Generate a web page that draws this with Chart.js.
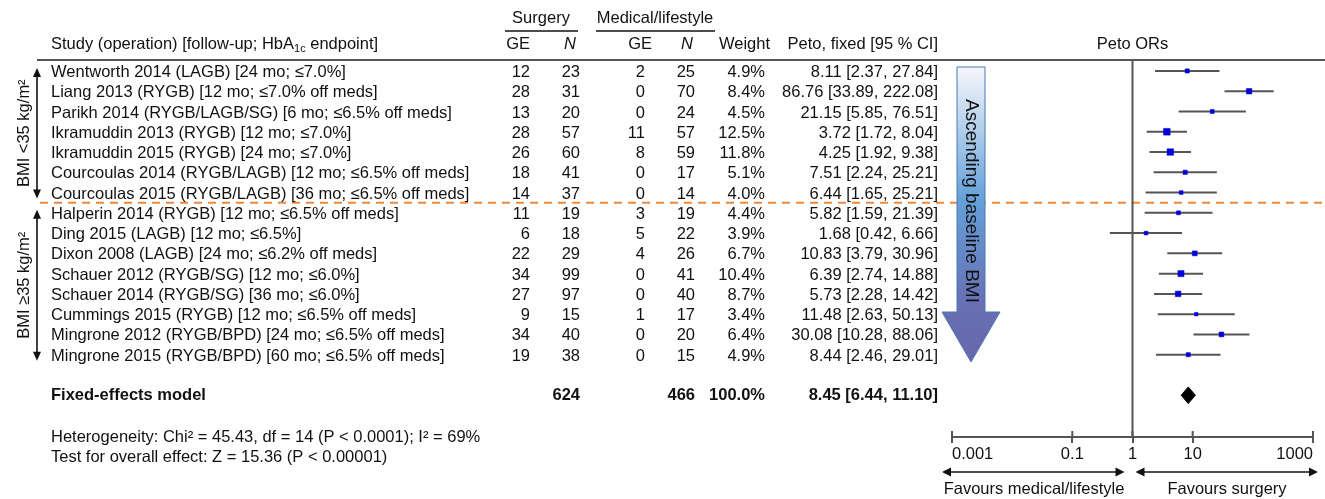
<!DOCTYPE html>
<html>
<head>
<meta charset="utf-8">
<title>Surgery vs medical/lifestyle - Peto ORs</title>
<script src="https://cdn.jsdelivr.net/npm/chart.js"></script>
<style>
  body { margin: 0; background: #fff; }
  #wrap { width: 1325px; height: 499px; }
</style>
</head>
<body>
<div id="wrap"><canvas id="forest" width="1325" height="499"></canvas></div>
<script>
// study rows, top to bottom
const studies = [
  'Wentworth 2014 (LAGB) [24 mo; ≤7.0%]',
  'Liang 2013 (RYGB) [12 mo; ≤7.0% off meds]',
  'Parikh 2014 (RYGB/LAGB/SG) [6 mo; ≤6.5% off meds]',
  'Ikramuddin 2013 (RYGB) [12 mo; ≤7.0%]',
  'Ikramuddin 2015 (RYGB) [24 mo; ≤7.0%]',
  'Courcoulas 2014 (RYGB/LAGB) [12 mo; ≤6.5% off meds]',
  'Courcoulas 2015 (RYGB/LAGB) [36 mo; ≤6.5% off meds]',
  'Halperin 2014 (RYGB) [12 mo; ≤6.5% off meds]',
  'Ding 2015 (LAGB) [12 mo; ≤6.5%]',
  'Dixon 2008 (LAGB) [24 mo; ≤6.2% off meds]',
  'Schauer 2012 (RYGB/SG) [12 mo; ≤6.0%]',
  'Schauer 2014 (RYGB/SG) [36 mo; ≤6.0%]',
  'Cummings 2015 (RYGB) [12 mo; ≤6.5% off meds]',
  'Mingrone 2012 (RYGB/BPD) [24 mo; ≤6.5% off meds]',
  'Mingrone 2015 (RYGB/BPD) [60 mo; ≤6.5% off meds]'
];
const surgGE = [12, 28, 13, 28, 26, 18, 14, 11, 6, 22, 34, 27, 9, 34, 19];
const surgN  = [23, 31, 20, 57, 60, 41, 37, 19, 18, 29, 99, 97, 15, 40, 38];
const medGE  = [2, 0, 0, 11, 8, 0, 0, 3, 5, 4, 0, 0, 1, 0, 0];
const medN   = [25, 70, 24, 57, 59, 17, 14, 19, 22, 26, 41, 40, 17, 20, 15];
const weight = [4.9, 8.4, 4.5, 12.5, 11.8, 5.1, 4.0, 4.4, 3.9, 6.7, 10.4, 8.7, 3.4, 6.4, 4.9];
const petoOR = [8.11, 86.76, 21.15, 3.72, 4.25, 7.51, 6.44, 5.82, 1.68, 10.83, 6.39, 5.73, 11.48, 30.08, 8.44];
const ciLow  = [2.37, 33.89, 5.85, 1.72, 1.92, 2.24, 1.65, 1.59, 0.42, 3.79, 2.74, 2.28, 2.63, 10.28, 2.46];
const ciHigh = [27.84, 222.08, 76.51, 8.04, 9.38, 25.21, 25.21, 21.39, 6.66, 30.96, 14.88, 14.42, 50.13, 88.06, 29.01];

// fixed-effects summary
const totalSurgN = 624;
const totalMedN = 466;
const totalWeight = 100.0;
const fixedOR = 8.45;
const fixedLow = 6.44;
const fixedHigh = 11.10;

// BMI groups: label, first row, last row
const groupLabels = ['BMI <35 kg/m²', 'BMI ≥35 kg/m²'];
const groupFirst = [0, 7];
const groupLast = [6, 14];

const xTickValues = [0.001, 0.1, 1, 10, 1000];
const xTickLabels = ['0.001', '0.1', '1', '10', '1000'];

const heterogeneity = 'Heterogeneity: Chi² = 45.43, df = 14 (P < 0.0001); I² = 69%';
const overallTest = 'Test for overall effect: Z = 15.36 (P < 0.00001)';

const SUMMARY_ROW = 16;
const FONT = '"Liberation Sans", Arial, Helvetica, sans-serif';
const INK = '#111';
const LINE = '#555';

function put(ctx, s, x, y, align, style, size) {
  ctx.font = (style || '') + ' ' + (size || 16.5) + 'px ' + FONT;
  ctx.textAlign = align || 'left';
  ctx.textBaseline = 'middle';
  ctx.fillStyle = INK;
  ctx.fillText(s, x, y);
}

function hline(ctx, x1, x2, y, w, color) {
  ctx.beginPath();
  ctx.moveTo(x1, y);
  ctx.lineTo(x2, y);
  ctx.lineWidth = w;
  ctx.strokeStyle = color;
  ctx.stroke();
}

function head(ctx, x, y, dir, horiz) {
  // small filled arrow head, tip at (x, y)
  ctx.beginPath();
  if (horiz) {
    ctx.moveTo(x, y);
    ctx.lineTo(x - dir * 9, y - 4.5);
    ctx.lineTo(x - dir * 9, y + 4.5);
  } else {
    ctx.moveTo(x, y);
    ctx.lineTo(x - 4, y - dir * 9);
    ctx.lineTo(x + 4, y - dir * 9);
  }
  ctx.closePath();
  ctx.fillStyle = INK;
  ctx.fill();
}

function dblArrowH(ctx, x1, x2, y) {
  hline(ctx, x1 + 4, x2 - 4, y, 1.6, INK);
  head(ctx, x1, y, -1, true);
  head(ctx, x2, y, 1, true);
}

// lines behind the markers: group divider and the line of no effect
const backdrop = {
  id: 'backdrop',
  beforeDatasetsDraw(chart) {
    const { ctx, scales: { x, y } } = chart;
    ctx.save();
    const yd = y.getPixelForValue((groupLast[0] + groupFirst[1]) / 2);
    ctx.setLineDash([8, 6]);
    hline(ctx, 40, 1325, yd, 2, '#f0893b');
    ctx.setLineDash([]);
    const x1 = x.getPixelForValue(1);
    ctx.beginPath();
    ctx.moveTo(x1, chart.chartArea.top);
    ctx.lineTo(x1, chart.chartArea.bottom);
    ctx.lineWidth = 2;
    ctx.strokeStyle = LINE;
    ctx.stroke();
    ctx.restore();
  }
};

// the table on the left, headers, notes and decorations
const table = {
  id: 'table',
  afterDraw(chart) {
    const { ctx, scales: { x, y } } = chart;
    const area = chart.chartArea;
    ctx.save();

    // column group headers
    put(ctx, 'Surgery', 541, 18, 'center');
    hline(ctx, 505, 578, 31, 1.5, INK);
    put(ctx, 'Medical/lifestyle', 655, 18, 'center');
    hline(ctx, 596, 715, 31, 1.5, INK);

    // column headers
    const hy = 44;
    ctx.font = '16.5px ' + FONT;
    let sx = 51;
    put(ctx, 'Study (operation) [follow-up; HbA', sx, hy);
    sx += ctx.measureText('Study (operation) [follow-up; HbA').width;
    put(ctx, '1c', sx, hy + 5, 'left', '', 11);
    ctx.font = '11px ' + FONT;
    sx += ctx.measureText('1c').width;
    put(ctx, ' endpoint]', sx, hy);
    put(ctx, 'GE', 530, hy, 'right');
    put(ctx, 'N', 570, hy, 'center', 'italic');
    put(ctx, 'GE', 652, hy, 'right');
    put(ctx, 'N', 687, hy, 'center', 'italic');
    put(ctx, 'Weight', 770, hy, 'right');
    put(ctx, 'Peto, fixed [95 % CI]', 938, hy, 'right');
    put(ctx, 'Peto ORs', x.getPixelForValue(1), hy, 'center');

    hline(ctx, 37, 1325, area.top, 2, LINE);

    // study rows
    studies.forEach((s, i) => {
      const ry = y.getPixelForValue(i) + 1.5;
      put(ctx, s, 51, ry);
      put(ctx, String(surgGE[i]), 530, ry, 'right');
      put(ctx, String(surgN[i]), 580, ry, 'right');
      put(ctx, String(medGE[i]), 645, ry, 'right');
      put(ctx, String(medN[i]), 695, ry, 'right');
      put(ctx, weight[i].toFixed(1) + '%', 765, ry, 'right');
      put(ctx, petoOR[i].toFixed(2) + ' [' + ciLow[i].toFixed(2) + ', ' + ciHigh[i].toFixed(2) + ']', 938, ry, 'right');
    });

    // summary row
    const sy = y.getPixelForValue(SUMMARY_ROW);
    put(ctx, 'Fixed-effects model', 51, sy, 'left', 'bold');
    put(ctx, String(totalSurgN), 580, sy, 'right', 'bold');
    put(ctx, String(totalMedN), 695, sy, 'right', 'bold');
    put(ctx, totalWeight.toFixed(1) + '%', 765, sy, 'right', 'bold');
    put(ctx, fixedOR.toFixed(2) + ' [' + fixedLow.toFixed(2) + ', ' + fixedHigh.toFixed(2) + ']', 938, sy, 'right', 'bold');

    put(ctx, heterogeneity, 51, 437);
    put(ctx, overallTest, 51, 457);

    // BMI group brackets
    groupLabels.forEach((lab, g) => {
      const top = y.getPixelForValue(groupFirst[g]) - 3;
      const bot = y.getPixelForValue(groupLast[g]) + 6;
      ctx.beginPath();
      ctx.moveTo(37, top + 4);
      ctx.lineTo(37, bot - 4);
      ctx.lineWidth = 1.6;
      ctx.strokeStyle = INK;
      ctx.stroke();
      head(ctx, 37, top, -1, false);
      head(ctx, 37, bot, 1, false);
      ctx.save();
      ctx.translate(24, (top + bot) / 2);
      ctx.rotate(-Math.PI / 2);
      put(ctx, lab, 0, 0, 'center');
      ctx.restore();
    });

    // upward half of the tick marks
    ctx.beginPath();
    xTickValues.forEach(v => {
      const px = x.getPixelForValue(v);
      ctx.moveTo(px, area.bottom);
      ctx.lineTo(px, area.bottom - 6);
    });
    ctx.lineWidth = 2;
    ctx.strokeStyle = LINE;
    ctx.stroke();

    // favours arrows
    const x1 = x.getPixelForValue(1);
    dblArrowH(ctx, 942, x1 - 8, 472);
    dblArrowH(ctx, x1 + 3, 1318, 472);
    put(ctx, 'Favours medical/lifestyle', 1034, 489, 'center');
    put(ctx, 'Favours surgery', 1227, 489, 'center');

    // ascending baseline BMI arrow
    const g = ctx.createLinearGradient(0, 67, 0, 362);
    g.addColorStop(0, '#f6f7fb');
    g.addColorStop(0.45, '#64a0d8');
    g.addColorStop(0.8, '#6870b4');
    g.addColorStop(1, '#6866ac');
    ctx.beginPath();
    ctx.moveTo(957, 67);
    ctx.lineTo(985, 67);
    ctx.lineTo(985, 312);
    ctx.lineTo(1000, 312);
    ctx.lineTo(971, 362);
    ctx.lineTo(942, 312);
    ctx.lineTo(957, 312);
    ctx.closePath();
    ctx.fillStyle = g;
    ctx.fill();
    ctx.lineWidth = 1;
    ctx.strokeStyle = '#4a78b0';
    ctx.stroke();
    ctx.save();
    ctx.translate(971, 201);
    ctx.rotate(Math.PI / 2);
    put(ctx, 'Ascending baseline BMI', 0, 0, 'center', '', 19);
    ctx.restore();

    ctx.restore();
  }
};

// CI whiskers as one broken line
const ciPoints = [];
ciLow.forEach((lo, i) => {
  ciPoints.push({ x: lo, y: i }, { x: ciHigh[i], y: i }, { x: null, y: null });
});

const diamond = [
  { x: fixedLow, y: SUMMARY_ROW },
  { x: fixedOR, y: SUMMARY_ROW - 0.41 },
  { x: fixedHigh, y: SUMMARY_ROW },
  { x: fixedOR, y: SUMMARY_ROW + 0.41 },
  { x: fixedLow, y: SUMMARY_ROW }
];

new Chart(document.getElementById('forest'), {
  type: 'scatter',
  data: {
    datasets: [
      {
        label: 'CI',
        data: ciPoints,
        order: 3,
        showLine: true,
        spanGaps: false,
        borderColor: LINE,
        borderWidth: 2,
        pointRadius: 0
      },
      {
        label: 'Peto OR',
        data: petoOR.map((v, i) => ({ x: v, y: i })),
        order: 1,
        pointStyle: 'rect',
        pointRadius: c => 1.9 * Math.sqrt(weight[c.dataIndex]) / Math.SQRT2,
        backgroundColor: '#0000d8',
        borderColor: '#0000d8',
        borderWidth: 0.5
      },
      {
        label: 'Fixed-effects model',
        data: diamond,
        order: 2,
        showLine: true,
        fill: 'shape',
        backgroundColor: '#000',
        borderColor: '#000',
        borderWidth: 1,
        pointRadius: 0
      }
    ]
  },
  options: {
    responsive: false,
    animation: false,
    devicePixelRatio: 1,
    layout: { padding: { left: 952, right: 12, top: 60, bottom: 0 } },
    plugins: { legend: { display: false }, tooltip: { enabled: false } },
    scales: {
      x: {
        type: 'logarithmic',
        min: 0.001,
        max: 1000,
        afterBuildTicks: axis => { axis.ticks = xTickValues.map(v => ({ value: v })); },
        afterFit: axis => { axis.height = 62; },
        ticks: {
          autoSkip: false,
          maxRotation: 0,
          align: 'inner',
          padding: 2,
          color: INK,
          font: { family: FONT, size: 16.5 },
          callback: (v, i) => xTickLabels[i]
        },
        grid: { drawOnChartArea: false, drawTicks: true, tickLength: 6, color: LINE, lineWidth: 2 },
        border: { display: true, color: LINE, width: 2 }
      },
      y: {
        display: false,
        reverse: true,
        min: -0.54,
        max: 18.06
      }
    }
  },
  plugins: [backdrop, table]
});
</script>
</body>
</html>
